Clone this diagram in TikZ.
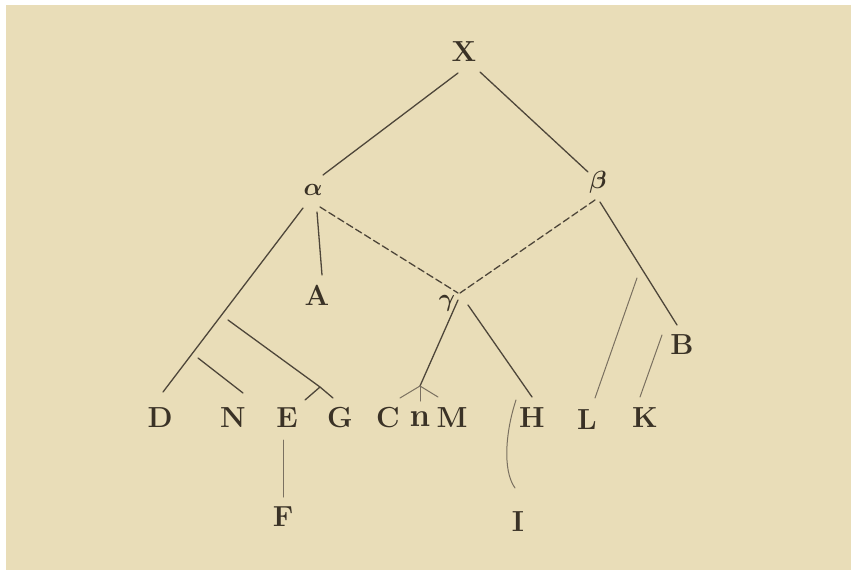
\documentclass[tikz,border=0pt]{standalone}
\usepackage{fontspec}
\definecolor{paper}{HTML}{E9DDB8}
\definecolor{ink}{HTML}{3A3226}
\definecolor{lineink}{HTML}{4E463A}
\definecolor{faintink}{HTML}{7A7060}
\tikzset{
  lbl/.style={font=\fontsize{29}{29}\selectfont\bfseries, text=ink, inner sep=0pt},
  glbl/.style={font=\fontsize{30}{30}\selectfont\boldmath, text=ink, inner sep=0pt},
  edge/.style={draw=lineink, line width=1.3pt, line cap=round},
  dedge/.style={edge, dash pattern=on 7pt off 3.5pt},
  fedge/.style={draw=faintink, line width=1pt, line cap=round}
}
\begin{document}
\begin{tikzpicture}[x=1pt,y=-1pt]
\useasboundingbox (0,0) rectangle (851,570);
\fill[white] (0,0) rectangle (851,570);
\fill[paper] (6,5) rectangle (851,570);
% nodes
\node[lbl]  (X) at (464,52) {X};
\node[glbl] (alpha) at (313,190) {$\alpha$};
\node[glbl] (beta) at (598,182) {$\beta$};
\node[lbl]  (A) at (317,295) {A};
\node[glbl] (gamma) at (447,303) {$\gamma$};
\node[lbl]  (B) at (682,345) {B};
\node[lbl]  (D) at (160,418) {D};
\node[lbl]  (N) at (233,418) {N};
\node[lbl]  (E) at (287,418) {E};
\node[lbl]  (G) at (340,418) {G};
\node[lbl]  (C) at (388,418) {C};
\node[lbl, font=\fontsize{33}{33}\selectfont\bfseries]  (n) at (420,419) {n};
\node[lbl]  (M) at (452,418) {M};
\node[lbl]  (H) at (532,418) {H};
\node[lbl]  (L) at (587,420) {L};
\node[lbl]  (K) at (645,418) {K};
\node[lbl]  (F) at (283,517) {F};
\node[lbl]  (I) at (518,522) {I};
% free points
\coordinate (cn) at (420,386);
\coordinate (eg) at (320,387);
\coordinate (egTop) at (228,320);
\coordinate (nTop) at (198,358);
\coordinate (lTop) at (637,278);
% connectors
\draw[edge] ([shift={(-6,21)}]X.center) -- ([shift={(10,-15)}]alpha.center);
\draw[edge] ([shift={(16,20)}]X.center) -- ([shift={(-10,-10)}]beta.center);
\draw[edge] ([shift={(-10,18)}]alpha.center) -- ([shift={(3,-26)}]D.center);
\draw[edge] ([shift={(4,22)}]alpha.center) -- ([shift={(5,-20)}]A.center);
\draw[dedge] ([shift={(7,17)}]alpha.center) -- ([shift={(11,-10)}]gamma.center);
\draw[dedge] ([shift={(-3,18)}]beta.center) -- ([shift={(13,-10)}]gamma.center);
\draw[edge] ([shift={(2,20)}]beta.center) -- ([shift={(-5,-20)}]B.center);
\draw[edge] ([shift={(11,-3)}]gamma.center) -- (cn);
\draw[fedge] (cn) -- ([shift={(12,-20)}]C.center);
\draw[fedge] (cn) -- ([shift={(0,-18)}]n.center);
\draw[fedge] (cn) -- ([shift={(-14,-21)}]M.center);
\draw[edge] ([shift={(21,2)}]gamma.center) -- ([shift={(0,-21)}]H.center);
\draw[fedge] (lTop) -- ([shift={(8,-22)}]L.center);
\draw[fedge] ([shift={(-20,-10)}]B.center) -- ([shift={(-5,-21)}]K.center);
\draw[edge] (egTop) -- (eg);
\draw[edge] (eg) -- ([shift={(18,-18)}]E.center);
\draw[edge] (eg) -- ([shift={(-7,-20)}]G.center);
\draw[edge] (nTop) -- ([shift={(10,-25)}]N.center);
\draw[fedge] ([shift={(-4,22)}]E.center) -- ([shift={(0,-20)}]F.center);
\draw[fedge] ([shift={(-16,-18)}]H.center) .. controls (506,430) and (502,470) .. ([shift={(-3,-34)}]I.center);
\end{tikzpicture}
\end{document}
